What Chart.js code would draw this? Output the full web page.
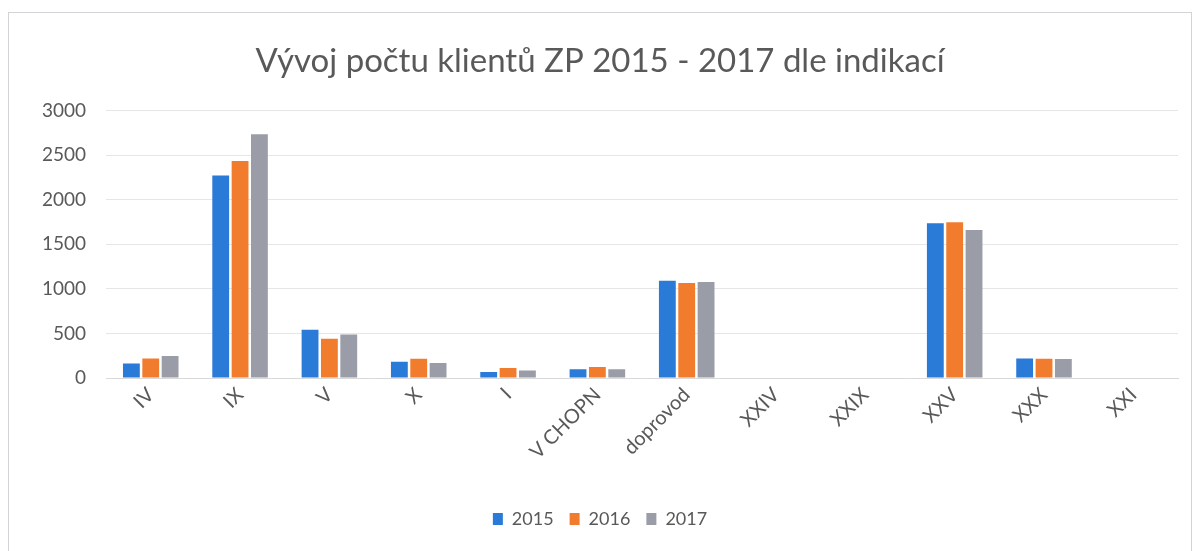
<!DOCTYPE html>
<html>
<head>
<meta charset="utf-8">
<script src="https://cdn.jsdelivr.net/npm/chart.js@4/dist/chart.umd.min.js"></script>
<style>
    html, body { margin: 0; padding: 0; background: #fff; }
    #frame {
        position: absolute; left: 8px; top: 12px;
        width: 1182px; height: 560px;
        border: 1px solid #d4d4d8;
    }
    #wrap { position: absolute; left: 0; top: 0; width: 1200px; height: 551px; }
</style>
</head>
<body>
<div id="frame"></div>
<div id="wrap"><canvas id="chartClients"></canvas></div>
<script>
const categories = ['IV', 'IX', 'V', 'X', 'I', 'V CHOPN', 'doprovod', 'XXIV', 'XXIX', 'XXV', 'XXX', 'XXI'];
const years = ['2015', '2016', '2017'];
const values2015 = [162, 2272, 542, 181, 68, 98, 1092, 0, 0, 1735, 218, 0];
const values2016 = [218, 2435, 440, 215, 113, 124, 1065, 0, 0, 1747, 216, 0];
const values2017 = [248, 2736, 489, 169, 83, 98, 1077, 0, 0, 1660, 214, 0];
const yTicks = [0, 500, 1000, 1500, 2000, 2500, 3000];

renderChart();

function renderChart() {
    const fontFamily = 'Lato, "Open Sans", sans-serif';
    const textColor = '#595959';
    const colors = ['#2a7ad8', '#f27c2e', '#9a9ca8'];
    const series = [values2015, values2016, values2017];

    const data = {
        labels: categories,
        datasets: years.map(function (y, i) {
            return {
                label: y,
                data: series[i],
                backgroundColor: colors[i],
                borderWidth: 0,
                categoryPercentage: 0.65,
                barPercentage: 0.87
            };
        })
    };

    const config = {
        type: 'bar',
        data: data,
        options: {
            responsive: true,
            maintainAspectRatio: false,
            animation: false,
            layout: {
                padding: { left: 22, right: 22, top: 42, bottom: 13 }
            },
            plugins: {
                title: {
                    display: true,
                    text: 'Vývoj počtu klientů ZP 2015 - 2017 dle indikací',
                    color: textColor,
                    font: { family: fontFamily, size: 33, weight: 'normal' },
                    padding: { top: 0, bottom: 29 }
                },
                legend: {
                    position: 'bottom',
                    labels: {
                        color: textColor,
                        font: { family: fontFamily, size: 18 },
                        boxWidth: 10,
                        boxHeight: 12,
                        padding: 16
                    }
                },
                tooltip: { enabled: false }
            },
            scales: {
                x: {
                    grid: { display: false, drawTicks: false },
                    border: { color: '#d9d9d9' },
                    ticks: {
                        color: textColor,
                        font: { family: fontFamily, size: 20 },
                        minRotation: 45,
                        maxRotation: 45,
                        padding: 5,
                        autoSkip: false
                    },
                    afterFit: function (axis) {
                        axis.height = 116;
                    }
                },
                y: {
                    min: 0,
                    max: 3000,
                    afterBuildTicks: function (axis) {
                        axis.ticks = yTicks.map(function (v) { return { value: v }; });
                    },
                    grid: { color: '#e6e6e6', drawTicks: false },
                    border: { display: false },
                    ticks: {
                        color: textColor,
                        font: { family: fontFamily, size: 19 },
                        padding: 20,
                        callback: function (v) { return String(v); }
                    }
                }
            }
        }
    };

    new Chart(document.getElementById('chartClients'), config);
}
</script>
</body>
</html>
